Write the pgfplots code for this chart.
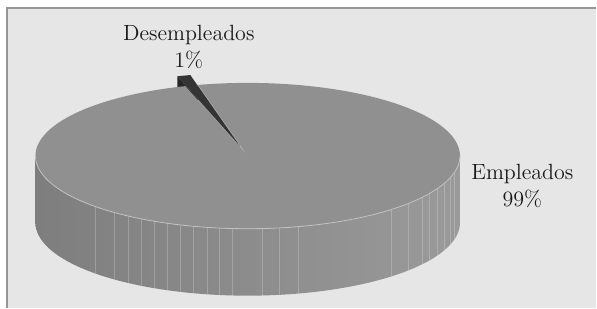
\documentclass[border=0pt]{standalone}
\usepackage{pgfplots}
\usepackage{pgfplotstable}
\pgfplotsset{compat=1.18}
\definecolor{bg}{RGB}{230,230,230}
\definecolor{frame}{RGB}{150,150,150}
\definecolor{topc}{RGB}{144,144,144}
\definecolor{sideL}{RGB}{126,126,126}
\definecolor{sideR}{RGB}{154,154,154}
\definecolor{wtop}{RGB}{52,52,52}
\definecolor{wside}{RGB}{38,38,38}
\definecolor{gapc}{RGB}{170,170,170}
\pgfplotstableread{
label value
Empleados 99
Desempleados 1
}\piedata
\begin{document}%
\begin{tikzpicture}
\pgfplotstablegetelem{0}{value}\of\piedata \let\vE=\pgfplotsretval
\pgfplotstablegetelem{1}{value}\of\piedata \let\vD=\pgfplotsretval
\def\cx{248}\def\cy{156}\def\ra{212.5}\def\rb{73}\def\dep{67}
\pgfmathsetmacro\aA{103.5}
\pgfmathsetmacro\aB{\aA+3.6*\vD}
\pgfmathsetmacro\aEnd{\aB+3.6*\vE}
\pgfmathsetmacro\aM{(\aA+\aB)/2}
\pgfmathsetmacro\ox{0.14*\ra*cos(\aM)}
\pgfmathsetmacro\oy{-0.14*\rb*sin(\aM)}
\pgfmathsetmacro\Tx{\cx+\ox}
\pgfmathsetmacro\Ty{\cy+\oy}
\pgfmathsetmacro\TyD{\Ty+\dep}
\pgfmathsetmacro\Px{\Tx+\ra*cos(\aB)}
\pgfmathsetmacro\Py{\Ty-\rb*sin(\aB)}
\pgfmathsetmacro\PyD{\Py+\dep}
\pgfmathsetmacro\Qx{\cx+\ra*cos(\aA)}
\pgfmathsetmacro\Qy{\cy-\rb*sin(\aA)}
\pgfmathsetmacro\QyD{\Qy+\dep}
\pgfmathsetmacro\cyD{\cy+\dep}
\begin{axis}[
  scale only axis, width=298.5pt, height=154pt,
  xmin=0, xmax=597, ymin=0, ymax=308, y dir=reverse,
  hide axis, clip=false,
]
% full white page area and background frame
\addplot[fill=white, draw=none] coordinates {(0,0) (597,0) (597,308) (0,308)} -- cycle;
\addplot[fill=bg, draw=none] coordinates {(7,8) (597,8) (597,308) (7,308)} -- cycle;
\addplot[draw=frame, line width=0.7pt] coordinates {(7,308) (7,8) (597,8)};
% exploded wedge radial face
\addplot[fill=wside, draw=none] coordinates {(\Tx,\Ty) (\Px,\Py) (\Px,\PyD) (\Tx,\TyD)} -- cycle;
% main radial face seen through gap
\addplot[fill=gapc, draw=none] coordinates {(\cx,\cy) (\Qx,\Qy) (\Qx,\QyD) (\cx,\cyD)} -- cycle;
% main side (front half)
\addplot[left color=sideL, right color=sideR, draw=none, domain=180:540, samples=361, variable=\t]
  ({\cx+\ra*cos(t)}, {(t<=360)*(\cy-\rb*sin(t)) + (t>360)*(\cy+\dep+\rb*sin(t))}) -- cycle;
% facet lines on the side
\addplot[white, opacity=0.22, line width=0.35pt, quiver={u=0, v=\dep}, -]
  table[x=x, y expr={\cy+\rb*sqrt(max(0,1-((\thisrow{x}-\cx)/\ra)^2))}, row sep=\\] {
  x\\ 95\\ 114\\ 128\\ 142\\ 155\\ 168\\ 181\\ 194\\ 208\\ 220\\ 233\\ 263\\ 280\\ 299\\ 392\\ 409\\ 423\\ 430\\ 438\\ 445\\ 451\\ 455\\
  };
% main top face
\addplot[fill=topc, draw=none, domain=\aB:\aEnd, samples=240, variable=\t]
  ({\cx+\ra*cos(t)}, {\cy-\rb*sin(t)}) -- (axis cs:\cx,\cy) -- cycle;
% highlight along front edge
\addplot[white!45!topc, line width=0.4pt, domain=180:360, samples=120, variable=\t]
  ({\cx+\ra*cos(t)}, {\cy-\rb*sin(t)});
% exploded wedge top
\addplot[fill=wtop, draw=none, domain=\aA:\aB, samples=8, variable=\t]
  ({\Tx+\ra*cos(t)}, {\Ty-\rb*sin(t)}) -- (axis cs:\Tx,\Ty) -- cycle;
% labels
\node[align=center, font=\fontsize{11}{13.8}\selectfont, text=black!90] at (axis cs:189,47) {Desempleados\\1\%};
\node[align=center, font=\fontsize{11}{13.8}\selectfont, text=black!90] at (axis cs:523,186) {Empleados\\99\%};
\end{axis}
\end{tikzpicture}%
\end{document}
